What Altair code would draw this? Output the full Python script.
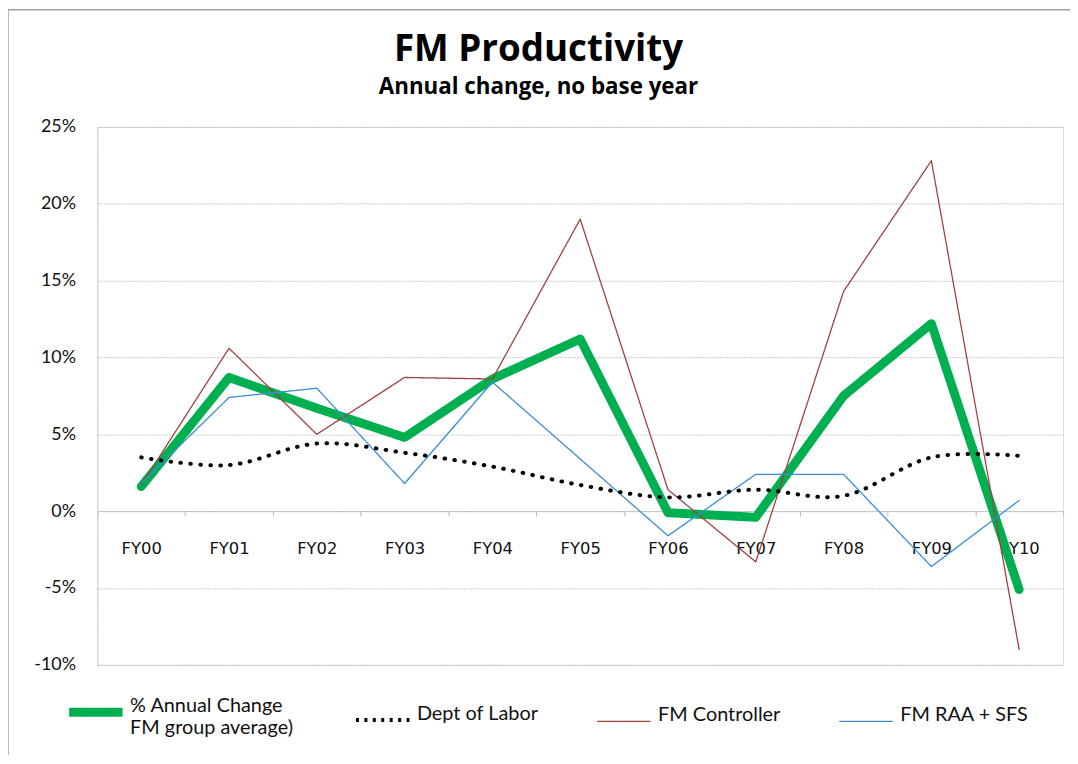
import altair as alt
import pandas as pd

years = ["FY00", "FY01", "FY02", "FY03", "FY04", "FY05", "FY06", "FY07", "FY08", "FY09", "FY10"]
series_names = ["% Annual Change", "Dept of Labor", "FM Controller", "FM RAA + SFS"]
annual_change = [1.6, 8.7, 6.7, 4.8, 8.6, 11.2, -0.1, -0.4, 7.5, 12.2, -5.1]
dept_of_labor = [3.5, 3.0, 4.4, 3.8, 2.9, 1.7, 0.9, 1.4, 1.0, 3.5, 3.6]
fm_controller = [1.7, 10.6, 5.0, 8.7, 8.6, 19.0, 1.4, -3.3, 14.3, 22.8, -9.0]
fm_raa_sfs = [1.8, 7.4, 8.0, 1.8, 8.4, 3.4, -1.6, 2.4, 2.4, -3.6, 0.7]

colors = ["#00b050", "#000000", "#a0403f", "#3a8ed6"]
widths = [9, 4, 1.3, 1.3]
legend_dashes = [[1, 0], [3, 5.5], [1, 0], [1, 0]]

rows = []
for name, vals in zip(series_names, [annual_change, dept_of_labor, fm_controller, fm_raa_sfs]):
    for y, v in zip(years, vals):
        rows.append({"year": y, "series": name, "value": v / 100.0})
df = pd.DataFrame(rows)

FONT = "Lato"
TITLE_FONT = "Open Sans"

x_enc = alt.X(
    "year:N",
    sort=years,
    bandPosition=0.5,
    scale=alt.Scale(type="band", paddingInner=0, paddingOuter=0),
    axis=alt.Axis(
        title=None,
        offset=-154.86,
        tickBand="extent",
        tickSize=5,
        tickColor="#bdbdbd",
        domainColor="#c4c4c4",
        labelFont="DejaVu Sans",
        labelFontSize=16.5,
        labelColor="#111111",
        labelPadding=25,
        labelAngle=0,
        grid=False,
    ),
)
y_enc = alt.Y(
    "value:Q",
    scale=alt.Scale(domain=[-0.10, 0.25], nice=False, zero=False),
    axis=alt.Axis(
        title=None,
        values=[-0.10, -0.05, 0, 0.05, 0.10, 0.15, 0.20, 0.25],
        format=".0%",
        labelExpr="replace(datum.label, '\u2212', '-')",
        ticks=False,
        domainColor="#c8c8c8",
        domainDash=[2, 1],
        gridColor="#c8c8c8",
        gridDash=[2, 1],
        labelFont=FONT,
        labelFontSize=18,
        labelColor="#111111",
        labelPadding=22,
    ),
)

legend = alt.Legend(
    title=None,
    orient="none",
    legendX=-33,
    legendY=558,
    direction="horizontal",
    columns=4,
    gridAlign="each",
    columnPadding=54,
    symbolType="stroke",
    symbolSize=2900,
    labelFont=FONT,
    labelFontSize=20,
    labelColor="#111111",
    labelOffset=3,
    labelLimit=400,
    labelBaseline="alphabetic",
    labelExpr="datum.label == '% Annual Change' ? ['% Annual Change', 'FM group average)'] : datum.label",
)

color_enc = alt.Color("series:N", scale=alt.Scale(domain=series_names, range=colors), legend=legend)
dash_enc = alt.StrokeDash("series:N", scale=alt.Scale(domain=series_names, range=legend_dashes), legend=legend)
width_enc = alt.StrokeWidth(
    "series:N", scale=alt.Scale(type="ordinal", domain=series_names, range=widths), legend=legend
)

base = alt.Chart(df)

main_lines = base.transform_filter(alt.datum.series != "Dept of Labor").mark_line(
    strokeCap="round", strokeJoin="round"
).encode(x=x_enc, y=y_enc, color=color_enc, strokeDash=dash_enc, strokeWidth=width_enc)

dotted = base.transform_filter(alt.datum.series == "Dept of Labor").mark_line(
    strokeCap="round", interpolate="cardinal", strokeDash=[0.6, 9.4]
).encode(x=x_enc, y=y_enc, color=color_enc, strokeWidth=width_enc)

frame = alt.Chart(pd.DataFrame({"k": [0]})).mark_rect(fill=None, stroke="#a0a0a0", strokeWidth=1.5).encode(
    x=alt.value(-90), x2=alt.value(990), y=alt.value(-118), y2=alt.value(634)
)

chart = alt.layer(frame, main_lines, dotted).properties(
    width=973,
    height=542,
    autosize=alt.AutoSizeParams(type="none"),
    padding={"left": 90, "top": 117, "right": 7, "bottom": 88},
    title=alt.Title(
        text="FM Productivity",
        subtitle="Annual change, no base year",
        font=TITLE_FONT,
        fontSize=37,
        fontWeight="bold",
        subtitleFont=TITLE_FONT,
        subtitleFontSize=22.5,
        subtitleFontWeight="bold",
        subtitleColor="#000000",
        color="#000000",
        anchor="middle",
        frame="group",
        dx=-42,
        offset=-91,
        subtitlePadding=7,
    ),
).configure_view(stroke=None).configure(background="white")

chart.save("out.html", embed_options={"renderer": "svg", "actions": False})
